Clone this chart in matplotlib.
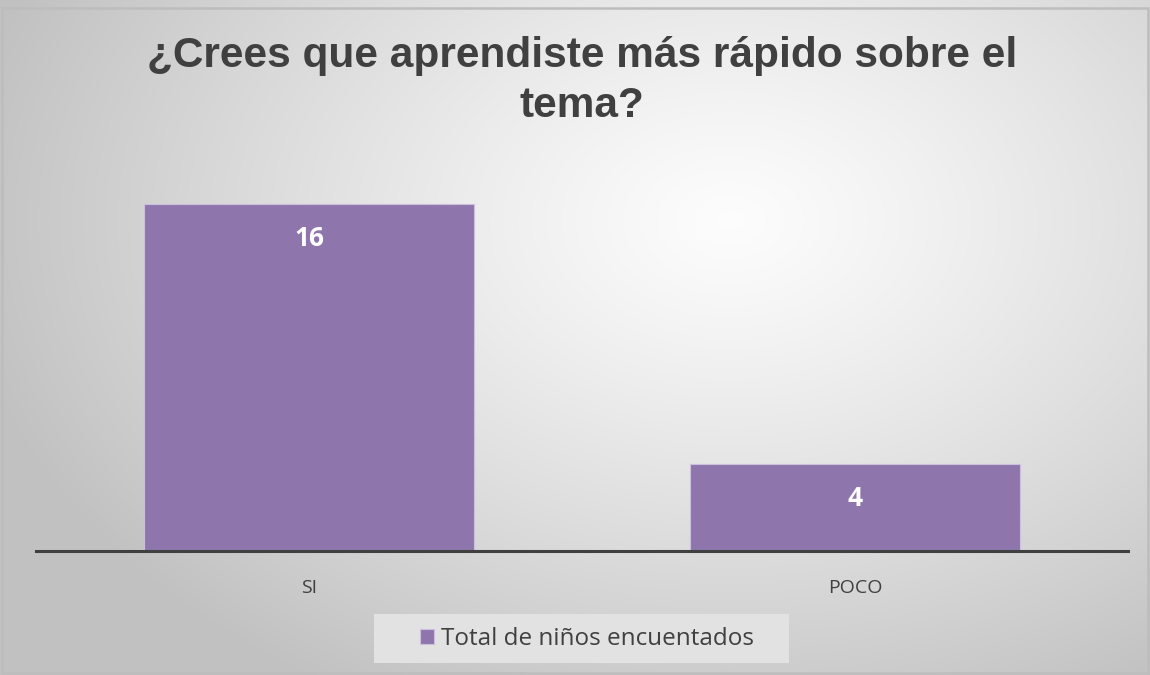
import numpy as np
import matplotlib
matplotlib.use("Agg")
import matplotlib.pyplot as plt
from matplotlib.patches import Rectangle

categories = ["SI", "POCO"]
values = [16, 4]
series_name = "Total de niños encuentados"
title = "¿Crees que aprendiste más rápido sobre el\ntema?"

W, H, DPI = 1150, 675, 100
fig = plt.figure(figsize=(W / DPI, H / DPI), dpi=DPI)

# radial gradient background
bg = fig.add_axes([0, 0, 1, 1], zorder=0)
yy, xx = np.mgrid[0:H, 0:W]
cx, cy = 730, 220
r = np.sqrt(((xx - cx) / 800.0) ** 2 + ((yy - cy) / 560.0) ** 2)
v = np.clip(0.99 - 0.24 * r ** 1.2, 0.76, 1.0)
img = np.dstack([v, v, v])
bg.imshow(img, aspect="auto", extent=[0, W, H, 0])
bg.set_xlim(0, W)
bg.set_ylim(H, 0)
bg.axis("off")
bg.add_patch(Rectangle((2, 8), W - 4, H - 10, fill=False, edgecolor="#bdbdbd", lw=1.8))

# main axes: baseline at y=551 px, x from 36 to 1128
unit = 21.7
ymax = 18
top_px = 551 - ymax * unit
ax = fig.add_axes([36 / W, (H - 551) / H, (1128 - 36) / W, (551 - top_px) / H], zorder=1)
ax.patch.set_alpha(0)
x = np.arange(len(categories))
bars = ax.bar(x, values, width=0.606, color="#8E76AD", edgecolor="#cbbfdb", linewidth=0.8, zorder=2)
ax.set_xlim(-0.5, len(categories) - 0.5)
ax.set_ylim(0, ymax)
for s in ["top", "right", "left"]:
    ax.spines[s].set_visible(False)
ax.spines["bottom"].set_color("#404040")
ax.spines["bottom"].set_linewidth(2.2)
ax.spines["bottom"].set_zorder(3)
ax.set_yticks([])
ax.set_xticks(x)
ax.set_xticklabels(categories, fontsize=14, color="#404040", fontfamily="Open Sans")
ax.tick_params(axis="x", length=0, pad=20)

for xi, val in zip(x, values):
    ax.annotate(str(val), xy=(xi, val), xytext=(0, -25), textcoords="offset points",
                ha="center", va="center", color="white", fontsize=19, fontweight="bold",
                fontfamily="Open Sans", zorder=4)

title_lines = title.split("\n")
for i, line in enumerate(title_lines):
    fig.text(582 / W, 1 - (67 + 50 * i) / H, line, ha="center", va="baseline", fontsize=30.5,
             fontweight="bold", color="#404040", fontfamily="Liberation Sans")

# legend box
bg.add_patch(Rectangle((374, 614), 415, 49, facecolor="#e2e2e2", edgecolor="none", zorder=2))
leg = fig.legend([bars[0]], [series_name], loc="center", bbox_to_anchor=(587 / W, 1 - 639 / H),
                 frameon=False, handlelength=0.55, handleheight=0.6,
                 handletextpad=0.3, prop={"family": "Open Sans", "size": 17.5})
for t in leg.get_texts():
    t.set_color("#404040")

fig.savefig("out.png", dpi=DPI)
